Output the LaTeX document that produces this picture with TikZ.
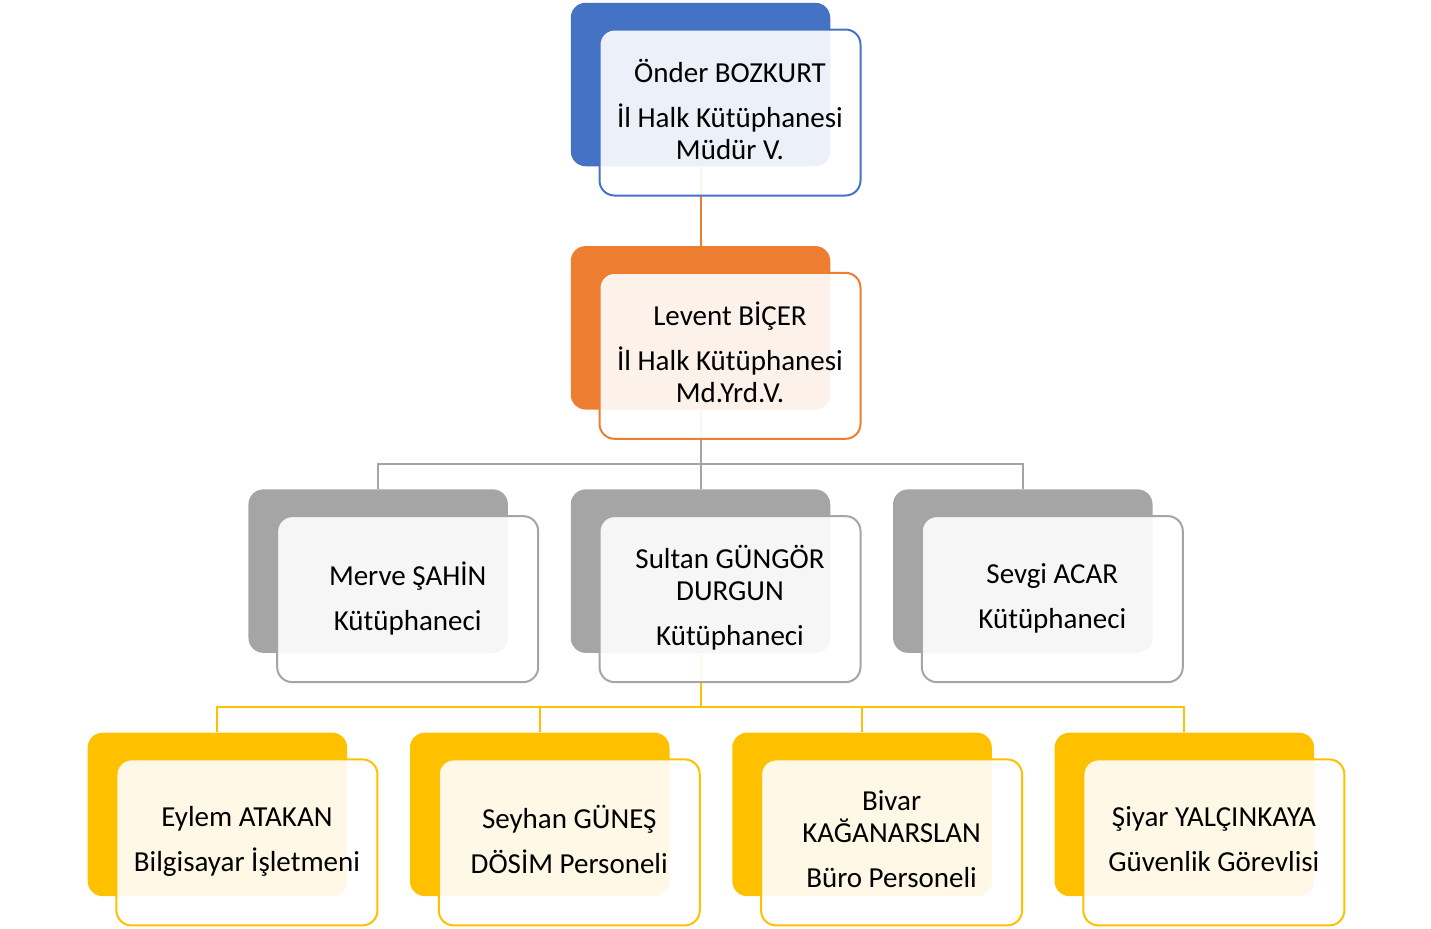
\documentclass[tikz,border=0pt]{standalone}
\usepackage{fontspec}
\setmainfont{Carlito}
\usepackage{xcolor}
\usetikzlibrary{positioning,backgrounds}
\definecolor{accblue}{HTML}{4472C4}
\definecolor{accorange}{HTML}{ED7D31}
\definecolor{accgray}{HTML}{A5A5A5}
\definecolor{accgold}{HTML}{FFC000}
\tikzset{
  backblock/.style={rounded corners=7.5pt, inner sep=0pt,
    minimum width=129.75pt, minimum height=81.75pt},
  card/.style={draw, line width=1pt, rounded corners=7.5pt, fill=white,
    fill opacity=0.9, text opacity=1, align=center, inner sep=2pt,
    minimum width=130.5pt, minimum height=83pt, xshift=14.75pt, yshift=-14pt,
    font=\fontsize{14.5}{16}\selectfont,
    execute at begin node={\rule{0pt}{12.75pt}},
    execute at end node={\rule[-3.25pt]{0pt}{3.25pt}}},
  dirback/.style={backblock, fill=accblue},
  dircard/.style={card, draw=accblue},
  depback/.style={backblock, fill=accorange},
  depcard/.style={card, draw=accorange},
  libback/.style={backblock, fill=accgray},
  libcard/.style={card, draw=accgray},
  staffback/.style={backblock, fill=accgold},
  staffcard/.style={card, draw=accgold},
  link/.style={line width=1pt}
}
\begin{document}
\begin{tikzpicture}[node distance=39.5pt and 31pt]
  \useasboundingbox (0,0) rectangle (715.5pt,-464pt);

  % ---- Director ----
  \node[dirback] (b1) at (350.25pt,-42.25pt) {};
  \node[dircard] (f1) at (b1) {Önder BOZKURT\\[6.5pt]İl Halk Kütüphanesi\\Müdür V.};

  % ---- Deputy ----
  \node[depback, below=of b1] (b2) {};
  \node[depcard] (f2) at (b2) {Levent BİÇER\\[6.5pt]İl Halk Kütüphanesi\\Md.Yrd.V.};

  % ---- Librarian row ----
  \node[libback, below=of b2] (b3b) {};
  \node[libback, left=of b3b] (b3a) {};
  \node[libback, right=of b3b] (b3c) {};
  \node[libcard] (f3a) at (b3a) {Merve ŞAHİN\\[6.5pt]Kütüphaneci};
  \node[libcard] (f3b) at (b3b) {Sultan GÜNGÖR\\DURGUN\\[6.5pt]Kütüphaneci};
  \node[libcard] (f3c) at (b3c) {Sevgi ACAR\\[6.5pt]Kütüphaneci};

  % ---- Staff row ----
  \node[staffback, below=of b3b, xshift=-80.375pt] (b4b) {};
  \node[staffback, left=of b4b] (b4a) {};
  \node[staffback, right=of b4b] (b4c) {};
  \node[staffback, right=of b4c] (b4d) {};
  \node[staffcard] (f4a) at (b4a) {Eylem ATAKAN\\[6.5pt]Bilgisayar İşletmeni};
  \node[staffcard] (f4b) at (b4b) {Seyhan GÜNEŞ\\[6.5pt]DÖSİM Personeli};
  \node[staffcard] (f4c) at (b4c) {Bivar\\KAĞANARSLAN\\[6.5pt]Büro Personeli};
  \node[staffcard] (f4d) at (b4d) {Şiyar YALÇINKAYA\\[6.5pt]Güvenlik Görevlisi};

  % ---- Connectors, behind the cards ----
  \begin{scope}[on background layer]
    \draw[link, accorange] (b1.south) -- (b2.north);
    \draw[link, accgray] (b2.south) -- ++(0,-27pt) -| (b3a.north);
    \draw[link, accgray] (b2.south) -- (b3b.north);
    \draw[link, accgray] (b2.south) -- ++(0,-27pt) -| (b3c.north);
    \draw[link, accgold] (b3b.south) -- ++(0,-27pt) -| (b4a.north);
    \draw[link, accgold] (b3b.south) -- ++(0,-27pt) -| (b4b.north);
    \draw[link, accgold] (b3b.south) -- ++(0,-27pt) -| (b4c.north);
    \draw[link, accgold] (b3b.south) -- ++(0,-27pt) -| (b4d.north);
  \end{scope}
\end{tikzpicture}
\end{document}
